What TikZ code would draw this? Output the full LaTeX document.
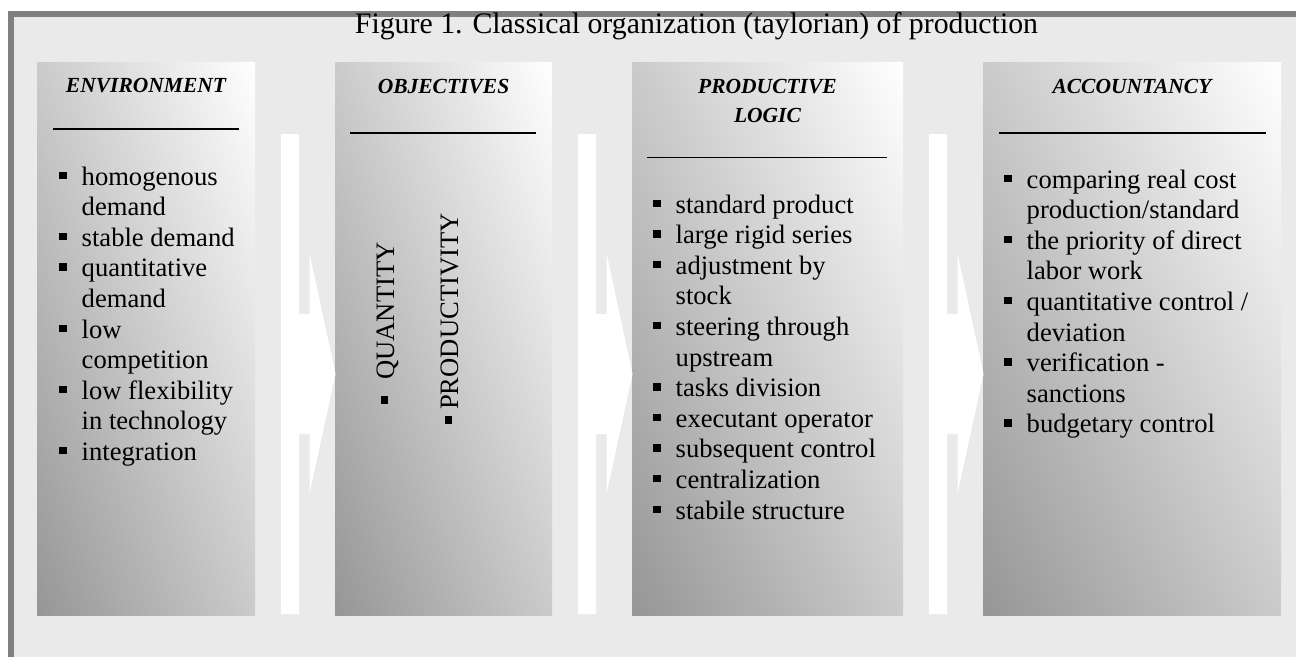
\documentclass[tikz,border=0pt]{standalone}
\usepackage{fontspec}
\setmainfont{Liberation Serif}

\definecolor{framegray}{RGB}{128,128,128}
\definecolor{paper}{RGB}{234,234,234}
\definecolor{stagegray}{RGB}{150,150,150}

\newcommand{\bul}{\makebox[22.5pt][l]{\raisebox{6pt}{\rule{7.5pt}{7.5pt}}}}
\newcommand{\cont}{\hspace*{22.5pt}}

% shaded column, from x=#1 to x=#2
\newcommand{\stage}[2]{%
  \begin{scope}
    \clip (#1,62) rectangle (#2,615);
    \pgfmathsetmacro\stw{(#2-#1)/100}
    \pgfmathsetmacro\stang{atan(\stw/5.53)}
    \pgfmathsetmacro\stlen{200*\stw*5.53/sqrt(\stw*\stw+5.53*5.53)}
    \pgfmathsetmacro\stmid{(#1+#2)/2}
    \shade[left color=stagegray, right color=white,
      transform canvas={rotate around={\stang:(\stmid,338.5)}}]
      (\stmid-\stlen/2,-300) rectangle (\stmid+\stlen/2,1000);
  \end{scope}}

% white block arrow, bar starting at x=#1
\newcommand{\flow}[1]{%
  \fill[white] (#1,134) -- (#1+18,134) -- (#1+18,314) -- (#1+28.5,314)
    -- (#1+28.5,253) -- (#1+54.5,374) -- (#1+28.5,494) -- (#1+28.5,434)
    -- (#1+18,434) -- (#1+18,614) -- (#1,614) -- cycle;}

\tikzset{
  title/.style={font=\fontsize{29.8}{34}\selectfont, inner sep=0pt},
  head/.style={font=\fontsize{21.5}{29}\selectfont\bfseries\itshape, inner sep=0pt, align=center},
  items/.style={font=\fontsize{26.6}{30.6}\selectfont, inner sep=0pt, align=left},
  headrule/.style={line width=1.8pt}
}

\begin{document}
\begin{tikzpicture}[x=1pt, y=-1pt]
  \useasboundingbox (0,0) rectangle (1296,657);
  \fill[white] (0,0) rectangle (1296,657);
  \fill[paper] (8,11) rectangle (1296,657);
  \fill[framegray] (8,11) rectangle (1296,16.5);
  \fill[framegray] (8,11) rectangle (13.5,657);

  \node[title, anchor=base] (title) at (696.5,33)
    {Figure 1. Classical organization (taylorian) of production};

  \stage{37}{255}
  \stage{335}{552}
  \stage{632}{903}
  \stage{983}{1281}

  \flow{281}
  \flow{578}
  \flow{929}

  % headings (base = last line)
  \node[head, anchor=base] (envhead) at (146,92) {ENVIRONMENT};
  \node[head, anchor=base] (objhead) at (443.5,93) {OBJECTIVES};
  \node[head, anchor=base] (loghead) at (767.5,122) {PRODUCTIVE\\LOGIC};
  \node[head, anchor=base] (acchead) at (1132,93) {ACCOUNTANCY};

  \draw[headrule] (53,129) -- (239,129);
  \draw[headrule] (350,133) -- (536,133);
  \draw[headrule] (647,157.5) -- (887,157.5);
  \draw[headrule] (999,133) -- (1266,133);

  % lists (base = last line)
  \node[items, anchor=base west] (envlist) at (59,460.4)
    {\bul homogenous\\ \cont demand\\ \bul stable demand\\ \bul quantitative\\
     \cont demand\\ \bul low\\ \cont competition\\ \bul low flexibility\\
     \cont in technology\\ \bul integration};

  \node[items, rotate=90, anchor=base west] (qty) at (394,403.75)
    {\makebox[23.75pt][l]{\raisebox{6pt}{\rule{7.5pt}{7.5pt}}}QUANTITY};
  \node[items, rotate=90, anchor=base west] (prod) at (458,423.75)
    {\makebox[13.75pt][l]{\raisebox{6pt}{\rule{7.5pt}{7.5pt}}}PRODUCTIVITY};

  \node[items, anchor=base west] (loglist) at (653,519)
    {\bul standard product\\ \bul large rigid series\\ \bul adjustment by\\
     \cont stock\\ \bul steering through\\ \cont upstream\\ \bul tasks division\\
     \bul executant operator\\ \bul subsequent control\\ \bul centralization\\
     \bul stabile structure};

  \node[items, anchor=base west] (acclist) at (1004,432.8)
    {\bul comparing real cost\\ \cont production/standard\\
     \bul the priority of direct\\ \cont labor work\\
     \bul quantitative control /\\ \cont deviation\\
     \bul verification -\\ \cont sanctions\\ \bul budgetary control};
\end{tikzpicture}
\end{document}
